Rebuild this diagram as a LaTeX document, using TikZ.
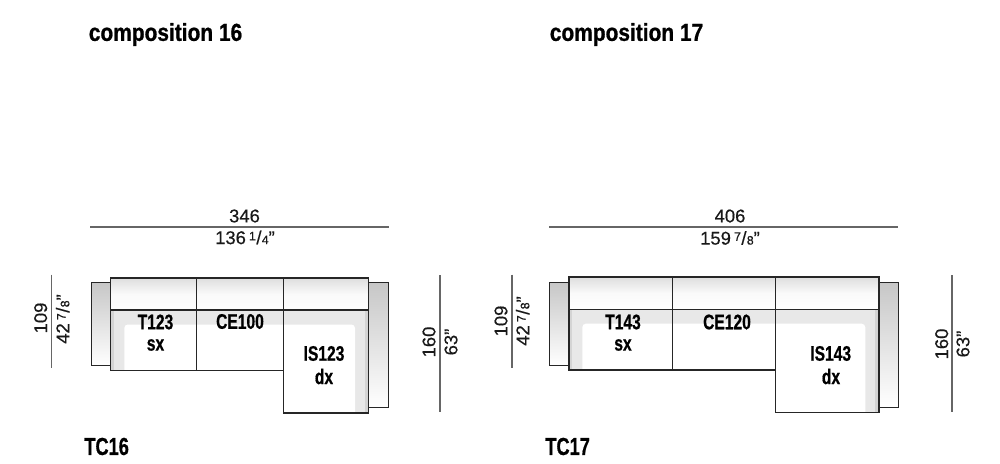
\documentclass[tikz,border=0pt]{standalone}
\usepackage{fontspec}
\setmainfont{Liberation Sans}
\newfontfamily\narrowbold[FakeStretch=0.74,FakeBold=0.7]{Liberation Sans Bold}
\newfontfamily\titlebold[FakeStretch=0.85,FakeBold=0.8]{Liberation Sans Bold}
\newfontfamily\dimfont[FakeBold=0.35]{Liberation Sans}
\usetikzlibrary{positioning}
\definecolor{bandgray}{gray}{0.91}
\definecolor{edgegray}{gray}{0.83}
\newcommand{\frc}[2]{\raisebox{.38ex}{\scriptsize #1}\kern.3pt/\kern.2pt{\scriptsize #2}}
\tikzset{outline/.style={draw=black!85,line width=0.55pt},
         module/.style={outline,line width=0.65pt},
         backrest/.style={module,top color=black!13,bottom color=white,middle color=black!2},
         armrest/.style={outline,top color=black!22,middle color=black!5,bottom color=white},
         dimline/.style={draw=black!60,line width=0.6pt},
         dimtext/.style={font=\fontsize{10.5}{12}\dimfont,inner sep=0pt,text=black!90},
         modlabel/.style={font=\fontsize{12}{14}\narrowbold,inner sep=0pt,align=center},
         comptitle/.style={font=\fontsize{14}{16}\titlebold,inner sep=0pt,anchor=west},
         codelabel/.style={font=\fontsize{14}{16}\narrowbold,inner sep=0pt,anchor=west}}
\begin{document}
\begin{tikzpicture}[x=0.02cm,y=-0.02cm]
    \useasboundingbox (0,0) rectangle (1000,463);
    % Titles
    \node (title16) at (88.5,34.5) [comptitle]{composition 16};
    \node (title17) at (549.5,34.5) [comptitle]{composition 17};
    \node (code16) at (84,446.5) [codelabel]{TC16};
    \node (code17) at (545,446.5) [codelabel]{TC17};
    % Composition 16
    \path[fill=bandgray] (110.7,310) rectangle (283.3,370.7);
    \path[fill=bandgray] (283.3,310) rectangle (368.3,413);
    \path[fill=edgegray] (110.7,310) rectangle (113.5,370.7);
    \path[fill=edgegray] (364.5,310) rectangle (368.3,413);
    \path[fill=white,rounded corners=2pt] (124.3,371) -- (124.3,324.5) -- (355,324.5) [sharp corners] -- (355,413) -- (283.3,413) -- (283.3,371) -- cycle;
    \draw[armrest] (91,282.7) rectangle (110.7,365.7);
    \draw[armrest] (368.3,282.7) rectangle (388,407.7);
    \draw[backrest] (110.7,278) rectangle (368.3,310);
    \draw[module] (110.7,310) -- (110.7,370.7) -- (283.3,370.7);
    \draw[module] (196.7,278) -- (196.7,370.7);
    \draw[module] (283.3,278) -- (283.3,413) -- (368.3,413) -- (368.3,310);
    \node (t123) at (155.5,322) [modlabel]{T123};
    \node (sx16) at (155.5,345) [modlabel]{sx};
    \node (ce100) at (240,321.5) [modlabel]{CE100};
    \node (is123) at (324,353.5) [modlabel]{IS123};
    \node (dx16) at (324,376.5) [modlabel]{dx};
    % Dimensions 16
    \draw[dimline] (90,227) -- (388.7,227);
    \node (w16) at (244.5,216) [dimtext]{346};
    \node (wi16) at (245,237.5) [dimtext]{136\,\frc{1}{4}”};
    \draw[dimline] (51.7,274.7) -- (51.7,368);
    \node (d16) at (40.7,318) [dimtext,rotate=90]{109};
    \node (di16) at (62.7,319) [dimtext,rotate=90]{42\,\frc{7}{8}”};
    \draw[dimline] (440,275) -- (440,412);
    \node (h16) at (429,342) [dimtext,rotate=90]{160};
    \node (hi16) at (451,342) [dimtext,rotate=90]{63”};
    % Composition 17
    \path[fill=bandgray] (569,309.3) rectangle (775.7,370);
    \path[fill=bandgray] (775.7,309.3) rectangle (879,412.7);
    \path[fill=edgegray] (569,309.3) rectangle (571.8,370);
    \path[fill=edgegray] (875.2,309.3) rectangle (879,412.7);
    \path[fill=white,rounded corners=2pt] (582.3,370.5) -- (582.3,323.7) -- (865.3,323.7) [sharp corners] -- (865.3,412.7) -- (775.7,412.7) -- (775.7,370.5) -- cycle;
    \draw[armrest] (549.7,282.3) rectangle (569,365.3);
    \draw[armrest] (879,282.3) rectangle (898.3,407);
    \draw[backrest] (569,277) rectangle (879,309.3);
    \draw[module] (569,309.3) -- (569,370) -- (775.7,370);
    \draw[module] (672.3,277) -- (672.3,370);
    \draw[module] (775.7,277) -- (775.7,412.7) -- (879,412.7) -- (879,309.3);
    \node (t143) at (623,322) [modlabel]{T143};
    \node (sx17) at (623,345) [modlabel]{sx};
    \node (ce120) at (727,322) [modlabel]{CE120};
    \node (is143) at (830.7,353.5) [modlabel]{IS143};
    \node (dx17) at (831,376.5) [modlabel]{dx};
    % Dimensions 17
    \draw[dimline] (549,227) -- (898,227);
    \node (w17) at (730,216) [dimtext]{406};
    \node (wi17) at (730,238) [dimtext]{159\,\frc{7}{8}”};
    \draw[dimline] (512,274.7) -- (512,368);
    \node (d17) at (501,321) [dimtext,rotate=90]{109};
    \node (di17) at (522.7,321) [dimtext,rotate=90]{42\,\frc{7}{8}”};
    \draw[dimline] (952,275) -- (952,412);
    \node (h17) at (941.7,344) [dimtext,rotate=90]{160};
    \node (hi17) at (963,344) [dimtext,rotate=90]{63”};
  \end{tikzpicture}
\end{document}
